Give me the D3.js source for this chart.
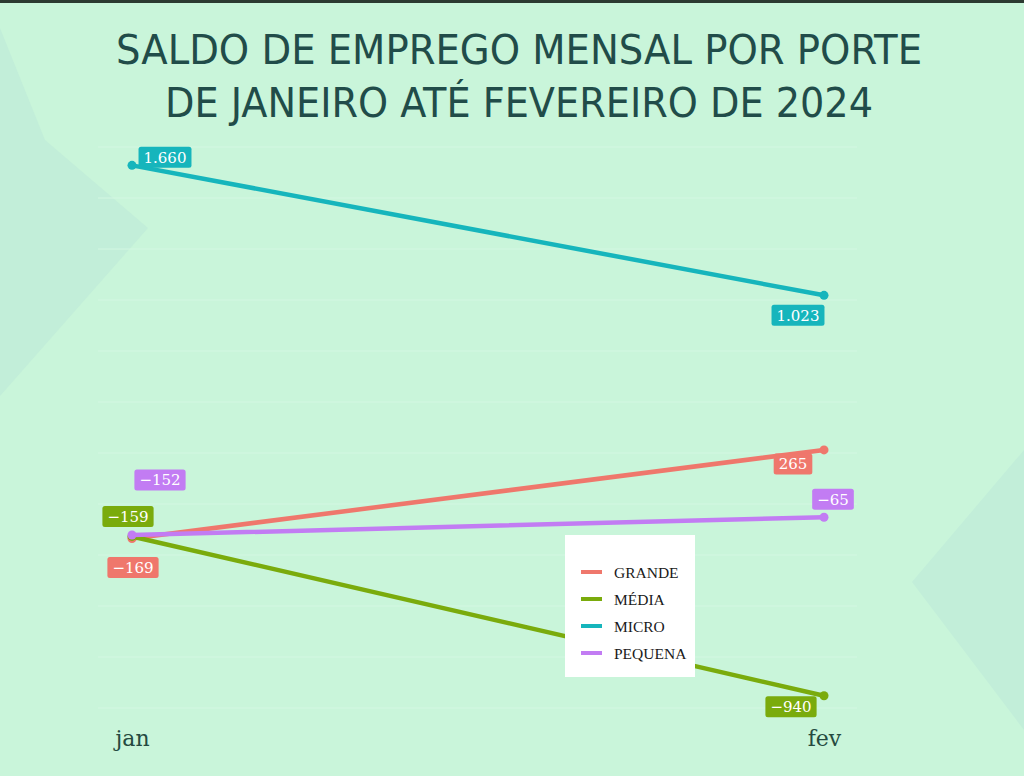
<!DOCTYPE html>
<html><head><meta charset="utf-8">
<script src="https://cdn.jsdelivr.net/npm/d3@7"></script>
<style>
html,body{margin:0;padding:0;background:#c9f5da;}
svg{display:block;}
</style></head>
<body>
<svg id="chart" width="1024" height="776"></svg>
<script>
// ---- data ----
const months = ["jan", "fev"];
const series = ["GRANDE", "MÉDIA", "MICRO", "PEQUENA"];
const grande  = [-169, 265];
const media   = [-159, -940];
const micro   = [1660, 1023];
const pequena = [-152, -65];
const yTicks = [-1000, -750, -500, -250, 0, 250, 500, 750, 1000, 1250, 1500, 1750];
const titleLines = ["SALDO DE EMPREGO MENSAL POR PORTE", "DE JANEIRO ATÉ FEVEREIRO DE 2024"];

// ---- styles / layout ----
const colors = {"GRANDE":"#ef776c", "MÉDIA":"#7aab0c", "MICRO":"#16b5bc", "PEQUENA":"#c27cf3"};
const values = {"GRANDE":grande, "MÉDIA":media, "MICRO":micro, "PEQUENA":pequena};
// label box offsets (center of box relative to point), px
const labelOffsets = {
  "GRANDE":  [[1, 29], [-31, 14]],
  "MÉDIA":   [[-4, -20], [-33, 11]],
  "MICRO":   [[33, -8], [-26, 20]],
  "PEQUENA": [[28, -55], [9, -18]]
};

const svg = d3.select("#chart");
const W = 1024, H = 776;
const serif = "'DejaVu Serif', 'Liberation Serif', serif";

// background
svg.append("rect").attr("width", W).attr("height", H).attr("fill", "#c9f5da");
svg.append("polygon").attr("points", "0,28 45,140 148,228 0,396").attr("fill", "#c2eed9");
svg.append("polygon").attr("points", "1024,450 912,582 1024,730").attr("fill", "#c2eed9");
svg.append("rect").attr("width", W).attr("height", 3).attr("fill", "#2c3a31");

// title
const title = svg.append("g");
titleLines.forEach((t, i) => {
  title.append("text")
    .attr("x", 519).attr("y", 64 + i * 53)
    .attr("text-anchor", "middle")
    .attr("font-family", "'DejaVu Sans Condensed', 'DejaVu Sans', sans-serif")
    .attr("font-stretch", "condensed")
    .attr("font-size", 41)
    .attr("fill", "#214c49")
    .attr("textLength", i === 0 ? 806 : 708)
    .attr("lengthAdjust", "spacingAndGlyphs")
    .text(t);
});

// scales
const x = d3.scalePoint().domain(months).range([132, 824]);
const y = d3.scaleLinear().domain([-1000, 1750]).range([708, 147]);

// gridlines
svg.append("g").selectAll("line").data(yTicks).join("line")
  .attr("x1", 98).attr("x2", 857)
  .attr("y1", d => y(d)).attr("y2", d => y(d))
  .attr("stroke", "#d3f7e2").attr("stroke-width", 1);

// x axis
const xAxis = svg.append("g").attr("transform", "translate(0,729)")
  .call(d3.axisBottom(x).tickSize(0).tickPadding(0));
xAxis.select(".domain").remove();
xAxis.selectAll("text").attr("font-family", serif).attr("font-size", 22)
  .attr("fill", "#254a40").attr("dy", "0.75em");

// lines + points
const line = d3.line().x((d, i) => x(months[i])).y(d => y(d));
const lg = svg.append("g");
series.forEach(s => {
  lg.append("path").datum(values[s]).attr("d", line)
    .attr("fill", "none").attr("stroke", colors[s]).attr("stroke-width", 4.5)
    .attr("stroke-linecap", "round");
  lg.selectAll(null).data(values[s]).join("circle")
    .attr("cx", (d, i) => x(months[i])).attr("cy", d => y(d)).attr("r", 4.5)
    .attr("fill", colors[s]);
});

// labels
const fmt = d3.formatLocale({decimal: ",", thousands: ".", grouping: [3], currency: ["R$", ""], minus: "\u2212"}).format(",d");
const labG = svg.append("g");
series.forEach(s => {
  values[s].forEach((v, i) => {
    const [dx, dy] = labelOffsets[s][i];
    const cx = x(months[i]) + dx, cy = y(v) + dy;
    const g = labG.append("g");
    const t = g.append("text").attr("x", cx).attr("y", cy).attr("dy", "0.36em")
      .attr("text-anchor", "middle").attr("font-family", serif).attr("font-size", 15)
      .attr("fill", "#ffffff").text(fmt(v));
    const w = t.node().getComputedTextLength();
    g.insert("rect", "text").attr("x", cx - w / 2 - 5).attr("y", cy - 10.5)
      .attr("width", w + 10).attr("height", 21).attr("rx", 2.5)
      .attr("fill", colors[s]);
  });
});

// legend
const leg = svg.append("g").attr("transform", "translate(565,535)");
leg.append("rect").attr("width", 130).attr("height", 142).attr("fill", "#ffffff");
series.forEach((s, i) => {
  const yy = 37 + i * 27;
  leg.append("line").attr("x1", 16).attr("x2", 37).attr("y1", yy).attr("y2", yy)
    .attr("stroke", colors[s]).attr("stroke-width", 4);
  leg.append("text").attr("x", 49).attr("y", yy).attr("dy", "0.36em")
    .attr("font-family", "'Liberation Serif', serif").attr("font-size", 15.5)
    .attr("fill", "#1a1a1a").text(s);
});
</script>
</body></html>
